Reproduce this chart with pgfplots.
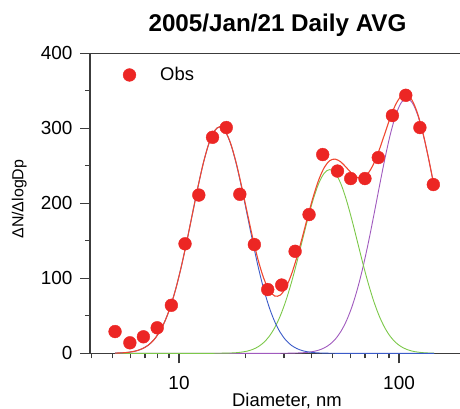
\documentclass[border=0pt]{standalone}
\usepackage{fontspec}
\setmainfont{Liberation Sans}
\usepackage{pgfplots}
\usepackage{pgfplotstable}
\pgfplotsset{compat=1.18}
\definecolor{obsred}{RGB}{236,38,36}
\definecolor{fitred}{RGB}{240,72,48}
\definecolor{fitblue}{RGB}{58,90,200}
\definecolor{fitgreen}{RGB}{124,200,74}
\definecolor{fitpurple}{RGB}{160,90,190}
\definecolor{axgray}{RGB}{60,60,60}

\pgfplotstableread{
x y
5.12 29
5.98 14
6.89 22
7.96 34
9.23 64
10.65 146
12.3 211
14.2 288
16.4 301
18.9 212
22.0 145
25.3 85
29.3 91
33.7 136
39.0 185
45.0 265
52.5 243
60.3 233
70.0 233
80.5 261
93.3 317
107.3 344
124.4 301
143.2 225
}\obs

\pgfplotstableread{
x b g p r
5.1286 0.25 0 0 0.25
5.4325 0.5 0 0 0.5
5.7544 1.0 0 0 1.0
6.0954 2.0 0 0 2.0
6.4565 3.6 0 0 3.6
6.8391 6.4 0 0 6.4
7.2444 10.8 0 0 10.8
7.6736 17.7 0 0 17.7
8.1283 27.9 0 0 27.9
8.6099 42.2 0 0 42.2
9.1201 61.3 0 0 61.3
9.6605 85.7 0 0 85.7
10.2329 115.1 0 0 115.1
10.8393 148.7 0 0 148.7
11.4815 184.6 0 0 184.6
12.1619 220.4 0 0 220.4
12.8825 253.0 0 0 253.0
13.6458 279.1 0 0 279.1
14.4544 296.1 0 0 296.1
15.3109 302.0 0.1 0 302.1
16.2181 296.1 0.2 0 296.3
17.1791 279.1 0.4 0 279.5
18.1970 253.0 0.8 0 253.8
19.2752 220.4 1.6 0 222.0
20.4174 184.6 2.9 0 187.5
21.6272 148.7 5.2 0 153.9
22.9087 115.1 8.8 0 123.9
24.2661 85.7 14.4 0 100.1
25.7040 61.3 22.6 0 83.9
27.2270 42.2 34.2 0 76.4
28.8403 27.9 49.7 0 77.6
30.5492 17.7 69.5 0.1 87.3
32.3594 10.8 93.4 0.2 104.4
34.2768 6.4 120.6 0.4 127.4
36.3078 3.6 149.8 0.7 154.1
38.4592 2.0 178.8 1.3 182.1
40.7380 1.0 205.2 2.4 208.6
43.1519 0.5 226.5 4.2 231.2
45.7088 0.25 240.2 7.2 247.6
48.4172 0.1 245.0 11.8 256.9
51.2861 0 240.2 18.7 258.9
54.3250 0 226.5 28.8 255.3
57.5440 0 205.2 42.7 247.9
60.9537 0 178.8 61.2 240.0
64.5654 0 149.8 84.8 234.6
68.3912 0 120.6 113.5 234.1
72.4436 0 93.4 146.7 240.1
76.7361 0 69.5 183.4 252.9
81.2831 0 49.7 221.5 271.2
86.0994 0 34.2 258.4 292.6
91.2011 0 22.6 291.4 314.0
96.6051 0 14.4 317.5 331.9
102.329 0 8.8 334.2 343.0
108.393 0 5.2 340.0 345.2
114.815 0 2.9 334.2 337.1
121.619 0 1.6 317.5 319.1
128.825 0 0.8 291.4 292.2
136.458 0 0.4 258.4 258.8
144.544 0 0.2 221.5 221.7
}\fit

\begin{document}
\begin{tikzpicture}
\begin{axis}[
  scale only axis, width=370bp, height=300bp,
  xmode=log, xmin=3.94, xmax=189.3, ymin=0, ymax=400,
  axis x line=box, axis y line=left,
  axis line style={-, axgray, line width=1.2bp},
  tick align=outside, xtick pos=left, ytick pos=left,
  major tick length=10bp, minor tick length=5bp,
  every tick/.style={axgray, line width=1.2bp},
  xtick={10,100}, xticklabels={10,100},
  minor xtick={4,5,6,7,8,9,20,30,40,50,60,70,80,90},
  ytick={0,100,200,300,400}, minor ytick={50,150,250,350},
  /pgf/number format/assume math mode=true,
  tick label style={font=\fontsize{19}{21}\selectfont},
  xticklabel style={yshift=-9bp},
  yticklabel style={xshift=-4bp},
  every axis title shift=0pt,
  title={2005/Jan/21 Daily AVG},
  title style={at={(axis description cs:0.5068,1)}, anchor=base, yshift=21.6bp, font=\bfseries\fontsize{24.3}{28}\selectfont},
  xlabel={Diameter, nm},
  xlabel style={at={(axis description cs:0.5324,0)}, anchor=base, yshift=-52.7bp, font=\fontsize{18.5}{20}\selectfont},
  ylabel={ΔN/ΔlogDp},
  ylabel style={at={(axis description cs:-0.1803,0.5137)}, anchor=base, font=\fontsize{16}{18}\selectfont},
  legend cell align=left,
  legend style={draw=none, fill=none, at={(axis description cs:0.0792,0.9277)}, anchor=west, inner sep=0pt, nodes={inner sep=0pt}, font=\fontsize{18.5}{20}\selectfont, /tikz/every odd column/.append style={column sep=20.7bp}},
  legend image code/.code={\path[draw=none,fill=none] (0bp,-6bp) rectangle (20bp,6bp); \draw[mark repeat=2,mark phase=2,#1] plot coordinates {(0bp,0bp) (10bp,0bp) (20bp,0bp)};},
]
\addplot[fitpurple, line width=0.9bp, smooth, forget plot] table[x=x,y=p]{\fit};
\addplot[fitgreen, line width=0.9bp, smooth, forget plot] table[x=x,y=g]{\fit};
\addplot[fitblue, line width=0.9bp, smooth, forget plot] table[x=x,y=b]{\fit};
\addplot[fitred, line width=1.1bp, smooth, forget plot] table[x=x,y=r]{\fit};
\addplot[only marks, mark=*, mark size=6.4bp, color=obsred, mark options={draw=none, fill=obsred}] table[x=x,y=y]{\obs};
\addlegendentry{Obs}
\end{axis}
\pgfresetboundingbox
\path[use as bounding box] (-90bp,-55.7bp) rectangle (370bp,353.3bp);
\end{tikzpicture}
\end{document}
